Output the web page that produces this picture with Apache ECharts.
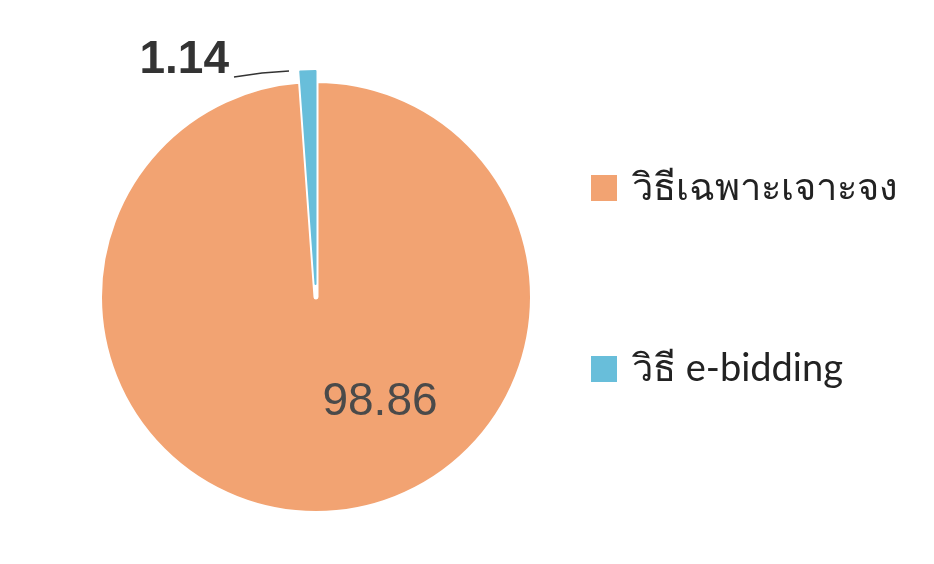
<!DOCTYPE html>
<html>
<head>
<meta charset="utf-8">
<script src="https://cdn.jsdelivr.net/npm/echarts@6/dist/echarts.min.js"></script>
<style>
  html, body { margin: 0; padding: 0; background: #fff; }
  #main { width: 934px; height: 564px; }
</style>
</head>
<body>
<div id="main"></div>
<script>
// ข้อมูล
var methods = ['วิธีเฉพาะเจาะจง', 'วิธี e-bidding'];
var shares = [98.86, 1.14];
var colors = ['#F2A372', '#68BEDA'];
var NONE = 'rgba(0,0,0,0)';

// series หลัก: แสดงเฉพาะส่วนสีส้ม, series ที่สอง: ส่วนสีฟ้าที่ดึงออกมา
var main_data = [];
var pulled_data = [];
for (var i = 0; i < methods.length; i++) {
    main_data.push({
        name: methods[i],
        value: shares[i],
        itemStyle: i == 0
            ? {color: colors[i], borderColor: '#fff', borderWidth: 5}
            : {color: NONE, borderWidth: 0},
        label: {show: i == 0}
    });
    pulled_data.push({
        name: methods[i],
        value: shares[i],
        itemStyle: i == 1
            ? {color: colors[i], borderColor: colors[i], borderWidth: 2}
            : {color: NONE, borderWidth: 0},
        label: {show: i == 1},
        labelLine: {show: i == 1}
    });
}

var legend_data = [];
for (var i = 0; i < methods.length; i++) {
    legend_data.push({name: methods[i], itemStyle: {color: colors[i], borderWidth: 0}});
}

var myChart = echarts.init(document.getElementById('main'));
var option = {
    backgroundColor: '#fff',
    animation: false,
    legend: {
        orient: 'vertical',
        left: 586,
        top: 164,
        itemWidth: 26,
        itemHeight: 26,
        itemGap: 143,
        icon: 'rect',
        textStyle: {
            fontSize: 38,
            color: '#222',
            fontFamily: 'Lato, "Noto Sans", sans-serif',
            padding: [0, 0, 0, 10]
        },
        data: legend_data
    },
    series: [
        {
            type: 'pie',
            center: [316, 297],
            radius: 216.5,
            startAngle: 90,
            clockwise: true,
            silent: true,
            label: {
                position: 'inside',
                formatter: function (p) { return p.value.toFixed(2); },
                fontSize: 46,
                color: '#4a4a4a',
                fontFamily: '"Liberation Sans", Arial, sans-serif'
            },
            labelLine: {show: false},
            labelLayout: function (p) {
                return {x: 380, y: 402, align: 'center', verticalAlign: 'middle'};
            },
            data: main_data
        },
        {
            type: 'pie',
            center: [315.5, 284],
            radius: 213,
            startAngle: 90,
            clockwise: true,
            silent: true,
            label: {
                position: 'outside',
                formatter: function (p) { return p.value.toFixed(2); },
                fontSize: 46,
                fontWeight: 'bold',
                color: '#333',
                fontFamily: '"Liberation Sans", Arial, sans-serif'
            },
            labelLine: {
                length: 10,
                length2: 40,
                lineStyle: {color: '#333', width: 1.5}
            },
            labelLayout: function (p) {
                return {
                    x: 229, y: 60, align: 'right', verticalAlign: 'middle',
                    labelLinePoints: [[289, 71], [262, 73], [234, 77]]
                };
            },
            data: pulled_data
        }
    ]
};

myChart.setOption(option);
</script>
</body>
</html>
